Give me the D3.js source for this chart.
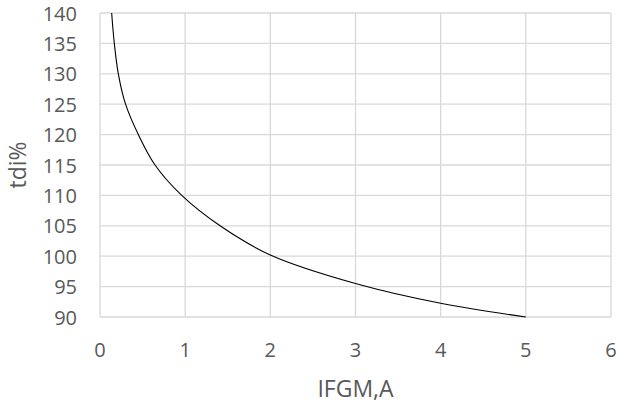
<!DOCTYPE html>
<html>
<head>
<meta charset="utf-8">
<script src="https://cdn.jsdelivr.net/npm/d3@7"></script>
<style>
  html, body { margin: 0; padding: 0; background: #fff; }
  svg text { font-family: "Open Sans", "Lato", sans-serif; fill: #595959; }
</style>
</head>
<body>
<svg id="chart" width="619" height="405"></svg>
<script>
// Current (A) against tdi (%)
const currentA = [0.137, 0.168, 0.215, 0.30, 0.45, 0.646, 0.96, 1.41, 2.0, 3.0, 4.0, 5.0];
const tdiPct   = [140,   135,   130,   125,  120,  115,   110,  105,  100.2, 95.5, 92.25, 90];
const xTicks = [0, 1, 2, 3, 4, 5, 6];
const yTicks = [90, 95, 100, 105, 110, 115, 120, 125, 130, 135, 140];
const xTitle = "IFGM,A";
const yTitle = "tdi%";

const svg = d3.select("#chart");
const plot = { left: 100, right: 611, top: 13, bottom: 317 };

const x = d3.scaleLinear().domain([0, 6]).range([plot.left, plot.right]);
const y = d3.scaleLinear().domain([90, 140]).range([plot.bottom, plot.top]);

const grid = svg.append("g");
grid.selectAll("line.v").data(xTicks).join("line")
  .attr("x1", d => x(d)).attr("x2", d => x(d))
  .attr("y1", plot.top).attr("y2", plot.bottom)
  .attr("stroke", "#d9d9d9").attr("stroke-width", 1.3);
grid.selectAll("line.h").data(yTicks).join("line")
  .attr("x1", plot.left).attr("x2", plot.right)
  .attr("y1", d => y(d)).attr("y2", d => y(d))
  .attr("stroke", "#d9d9d9").attr("stroke-width", 1.3);

// Tick labels
svg.append("g").selectAll("text").data(xTicks).join("text")
  .attr("x", d => x(d)).attr("y", 349)
  .attr("text-anchor", "middle").attr("dominant-baseline", "central")
  .attr("font-size", 20).text(d => d);
svg.append("g").selectAll("text").data(yTicks).join("text")
  .attr("x", 77).attr("y", d => y(d))
  .attr("text-anchor", "end").attr("dominant-baseline", "central")
  .attr("font-size", 20).text(d => d);

// Axis titles
svg.append("text").attr("x", x(3)).attr("y", 388)
  .attr("text-anchor", "middle").attr("dominant-baseline", "central")
  .attr("font-size", 23).text(xTitle);
svg.append("text")
  .attr("transform", `translate(17,${(plot.top + plot.bottom) / 2}) rotate(-90)`)
  .attr("text-anchor", "middle").attr("dominant-baseline", "central")
  .attr("font-size", 23).text(yTitle);

// Curve
const pts = currentA.map((v, i) => [v, tdiPct[i]]);
svg.append("path").datum(pts)
  .attr("fill", "none").attr("stroke", "#000").attr("stroke-width", 1.1)
  .attr("d", d3.line().x(d => x(d[0])).y(d => y(d[1])).curve(d3.curveCatmullRom.alpha(0.5)));
</script>
</body>
</html>
